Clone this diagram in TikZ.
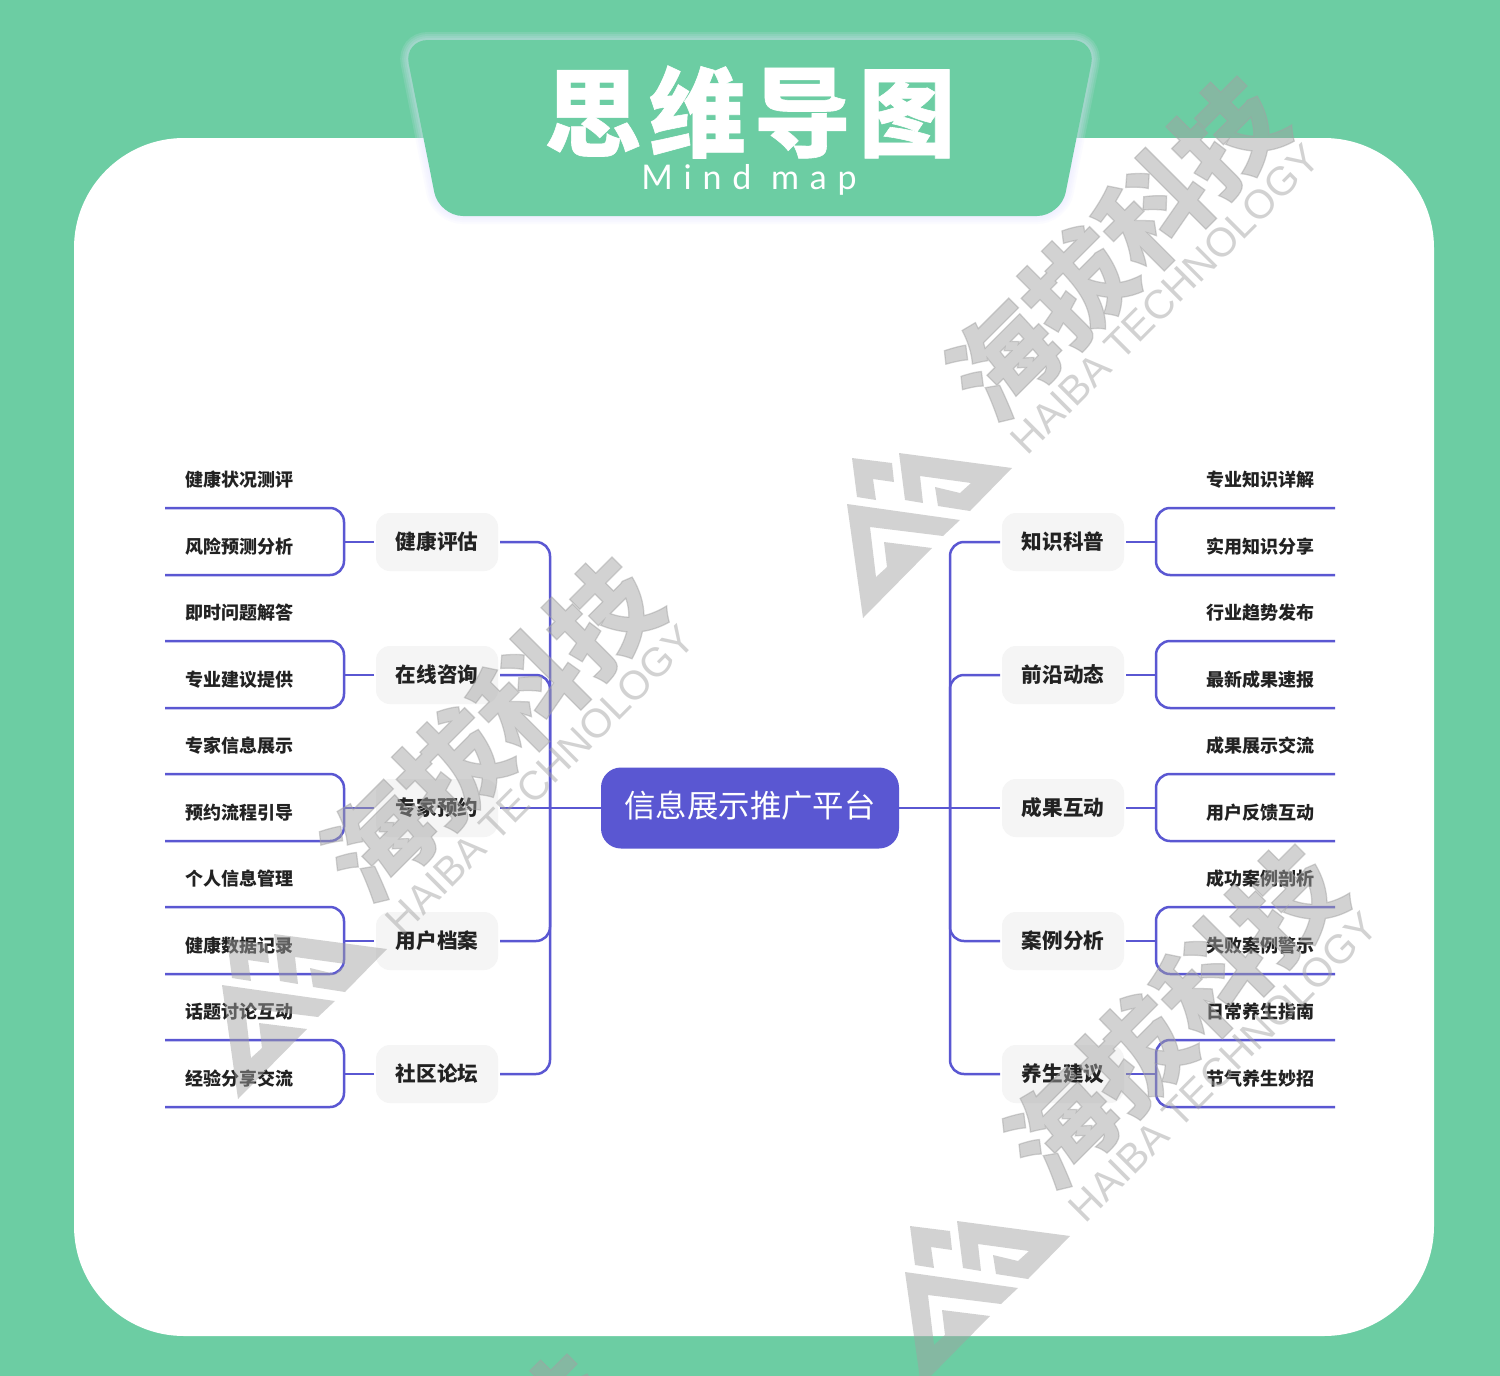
\documentclass[tikz,border=0pt]{standalone}
\usepackage{fontspec}
\setmainfont{Noto Sans CJK SC}
\newfontfamily\titlefont[LetterSpace=8,FakeBold=.6]{Noto Sans CJK SC}
\newfontfamily\subfont[LetterSpace=32]{Lato}
\newfontfamily\stampfont{Liberation Sans}
\newfontfamily\stampcjk[FakeBold=1.2]{Noto Sans CJK SC}
\definecolor{Mint}{HTML}{6CCDA3}
\definecolor{Indigo}{HTML}{5A57D2}
\definecolor{Chip}{HTML}{F5F5F5}
\definecolor{Ink}{HTML}{222222}
\definecolor{Stamp}{HTML}{A2A2A2}

\tikzset{
	root/.style={fill=Indigo, text=white, rounded corners=10pt, minimum width=149pt, minimum height=40.5pt, text depth=4pt, font=\fontsize{15.7}{15.7}\selectfont},
	topic/.style={fill=Chip, text=Ink, rounded corners=7pt, minimum width=61pt, minimum height=29pt, outer sep=1pt, font=\fontsize{10.3}{10.3}\selectfont\bfseries},
	leaf/.style={text=Ink, inner sep=0pt, node distance=33.25pt, font=\fontsize{9}{9}\selectfont\bfseries},
	twig/.style={draw=Indigo, line width=1.25pt, rounded corners=7pt},
	stampshape/.style={fill=Stamp, fill opacity=.48}
}

% bracket round the two leaves of a topic
\newcommand{\twigL}[1]{%
	\coordinate (#1Up) at ([shift={(-209,-34)}]#1.west);
	\draw[twig] (#1Up) -- ++(179,0) -- ++(0,67) -- ++(-179,0);
	\draw[twig] (#1.west) -- ++(-30,0);
}
\newcommand{\twigR}[1]{%
	\coordinate (#1Up) at ([shift={(209,-34)}]#1.east);
	\draw[twig] (#1Up) -- ++(-179,0) -- ++(0,67) -- ++(179,0);
	\draw[twig] (#1.east) -- ++(30,0);
}
% watermark, origin top left of its logo
\newcommand{\stamp}[2]{%
	\begin{scope}[shift={(#1,#2)}]
		\fill[stampshape] (12,13) -- (52,18) -- (54,37) -- (33,34) -- (36,55) -- (17,52) -- cycle;
		\fill[stampshape] (59,8) -- (172,23) -- (130,66) -- (98,61) -- (95,42) -- (120,48) -- (131,38) -- (80,31) -- (83,58) -- (65,55) -- cycle;
		\fill[stampshape] (7,59) -- (120,75) -- (103,91) -- (30,82) -- (36,132) -- (47,122) -- (44,97) -- (92,103) -- (23,173) -- cycle;
		\node[rotate=45, text=Stamp, text opacity=.48, font=\fontsize{53}{53}\stampcjk\bfseries] at (276,-197) {海拔科技};
		\node[rotate=45, text=Stamp, text opacity=.48, font=\fontsize{20.3}{20.3}\stampfont] at (325,-146) {HAIBA TECHNOLOGY};
	\end{scope}
}

\begin{document}
\begin{tikzpicture}[x=0.5pt, y=-0.5pt]
	
	% Achtergrond en paneel
	\fill[Mint] (0,0) rectangle (1500,1376);
	\useasboundingbox (0,0) rectangle (1500,1376);
	\fill[white, rounded corners=55pt] (74,138) rectangle (1434,1336);
	
	% Kop
	\foreach \glow in {16,12,8,4}
		\draw[draw=blue!10!white, opacity=.14, line width=\glow*0.5pt, rounded corners=12pt] (404,40) -- (1096,40) -- (1061,216) -- (439,216) -- cycle;
	\fill[Mint, rounded corners=12pt] (404,40) -- (1096,40) -- (1061,216) -- (439,216) -- cycle;
	\node[text=white, font=\fontsize{48.5}{48.5}\titlefont\bfseries] (Title) at (750,112) {思维导图};
	\node[text=white, font=\fontsize{17}{17}\subfont] (Subtitle) at (749,180) {Mind map};
	
	% Midden
	\node[root] (Platform) at (750,808) {信息展示推广平台};
	
	% Linkerrij
	\node[topic, left of=Platform, node distance=156.5pt] (Expert) {专家预约};
	\node[topic, above of=Expert, node distance=66.5pt] (Consult) {在线咨询};
	\node[topic, above of=Consult, node distance=66.5pt] (Assess) {健康评估};
	\node[topic, below of=Expert, node distance=66.5pt] (Profile) {用户档案};
	\node[topic, below of=Profile, node distance=66.5pt] (Forum) {社区论坛};
	
	% Rechterrij
	\node[topic, right of=Platform, node distance=156.5pt] (Result) {成果互动};
	\node[topic, above of=Result, node distance=66.5pt] (Frontier) {前沿动态};
	\node[topic, above of=Frontier, node distance=66.5pt] (Science) {知识科普};
	\node[topic, below of=Result, node distance=66.5pt] (Cases) {案例分析};
	\node[topic, below of=Cases, node distance=66.5pt] (Wellness) {养生建议};
	
	% Bladeren links
	\node[leaf] (LeafA) at (239,480) {健康状况测评};
	\node[leaf, below of=LeafA] (LeafB) {风险预测分析};
	\node[leaf, below of=LeafB] (LeafC) {即时问题解答};
	\node[leaf, below of=LeafC] (LeafD) {专业建议提供};
	\node[leaf, below of=LeafD] (LeafE) {专家信息展示};
	\node[leaf, below of=LeafE] (LeafF) {预约流程引导};
	\node[leaf, below of=LeafF] (LeafG) {个人信息管理};
	\node[leaf, below of=LeafG] (LeafH) {健康数据记录};
	\node[leaf, below of=LeafH] (LeafI) {话题讨论互动};
	\node[leaf, below of=LeafI] (LeafJ) {经验分享交流};
	
	% Bladeren rechts
	\node[leaf] (LeafK) at (1260,480) {专业知识详解};
	\node[leaf, below of=LeafK] (LeafL) {实用知识分享};
	\node[leaf, below of=LeafL] (LeafM) {行业趋势发布};
	\node[leaf, below of=LeafM] (LeafN) {最新成果速报};
	\node[leaf, below of=LeafN] (LeafO) {成果展示交流};
	\node[leaf, below of=LeafO] (LeafP) {用户反馈互动};
	\node[leaf, below of=LeafP] (LeafQ) {成功案例剖析};
	\node[leaf, below of=LeafQ] (LeafR) {失败案例警示};
	\node[leaf, below of=LeafR] (LeafS) {日常养生指南};
	\node[leaf, below of=LeafS] (LeafT) {节气养生妙招};
	
	% Stam links
	\coordinate (SpineL) at (550,808);
	\draw[twig] (Platform.west) -- (Expert.east);
	\draw[twig] (Assess.east) -| (SpineL);
	\draw[twig] (Consult.east) -| (SpineL);
	\draw[twig] (Profile.east) -| (SpineL);
	\draw[twig] (Forum.east) -| (SpineL);
	
	% Stam rechts
	\coordinate (SpineR) at (950,808);
	\draw[twig] (Platform.east) -- (Result.west);
	\draw[twig] (Science.west) -| (SpineR);
	\draw[twig] (Frontier.west) -| (SpineR);
	\draw[twig] (Cases.west) -| (SpineR);
	\draw[twig] (Wellness.west) -| (SpineR);
	
	% Haken
	\twigL{Assess} \twigL{Consult} \twigL{Expert} \twigL{Profile} \twigL{Forum}
	\twigR{Science} \twigR{Frontier} \twigR{Result} \twigR{Cases} \twigR{Wellness}
	
	% Watermerk
	\stamp{840}{445}
	\stamp{215}{926}
	\stamp{898}{1213}
	\stamp{170}{1723}
	
\end{tikzpicture}
\end{document}
